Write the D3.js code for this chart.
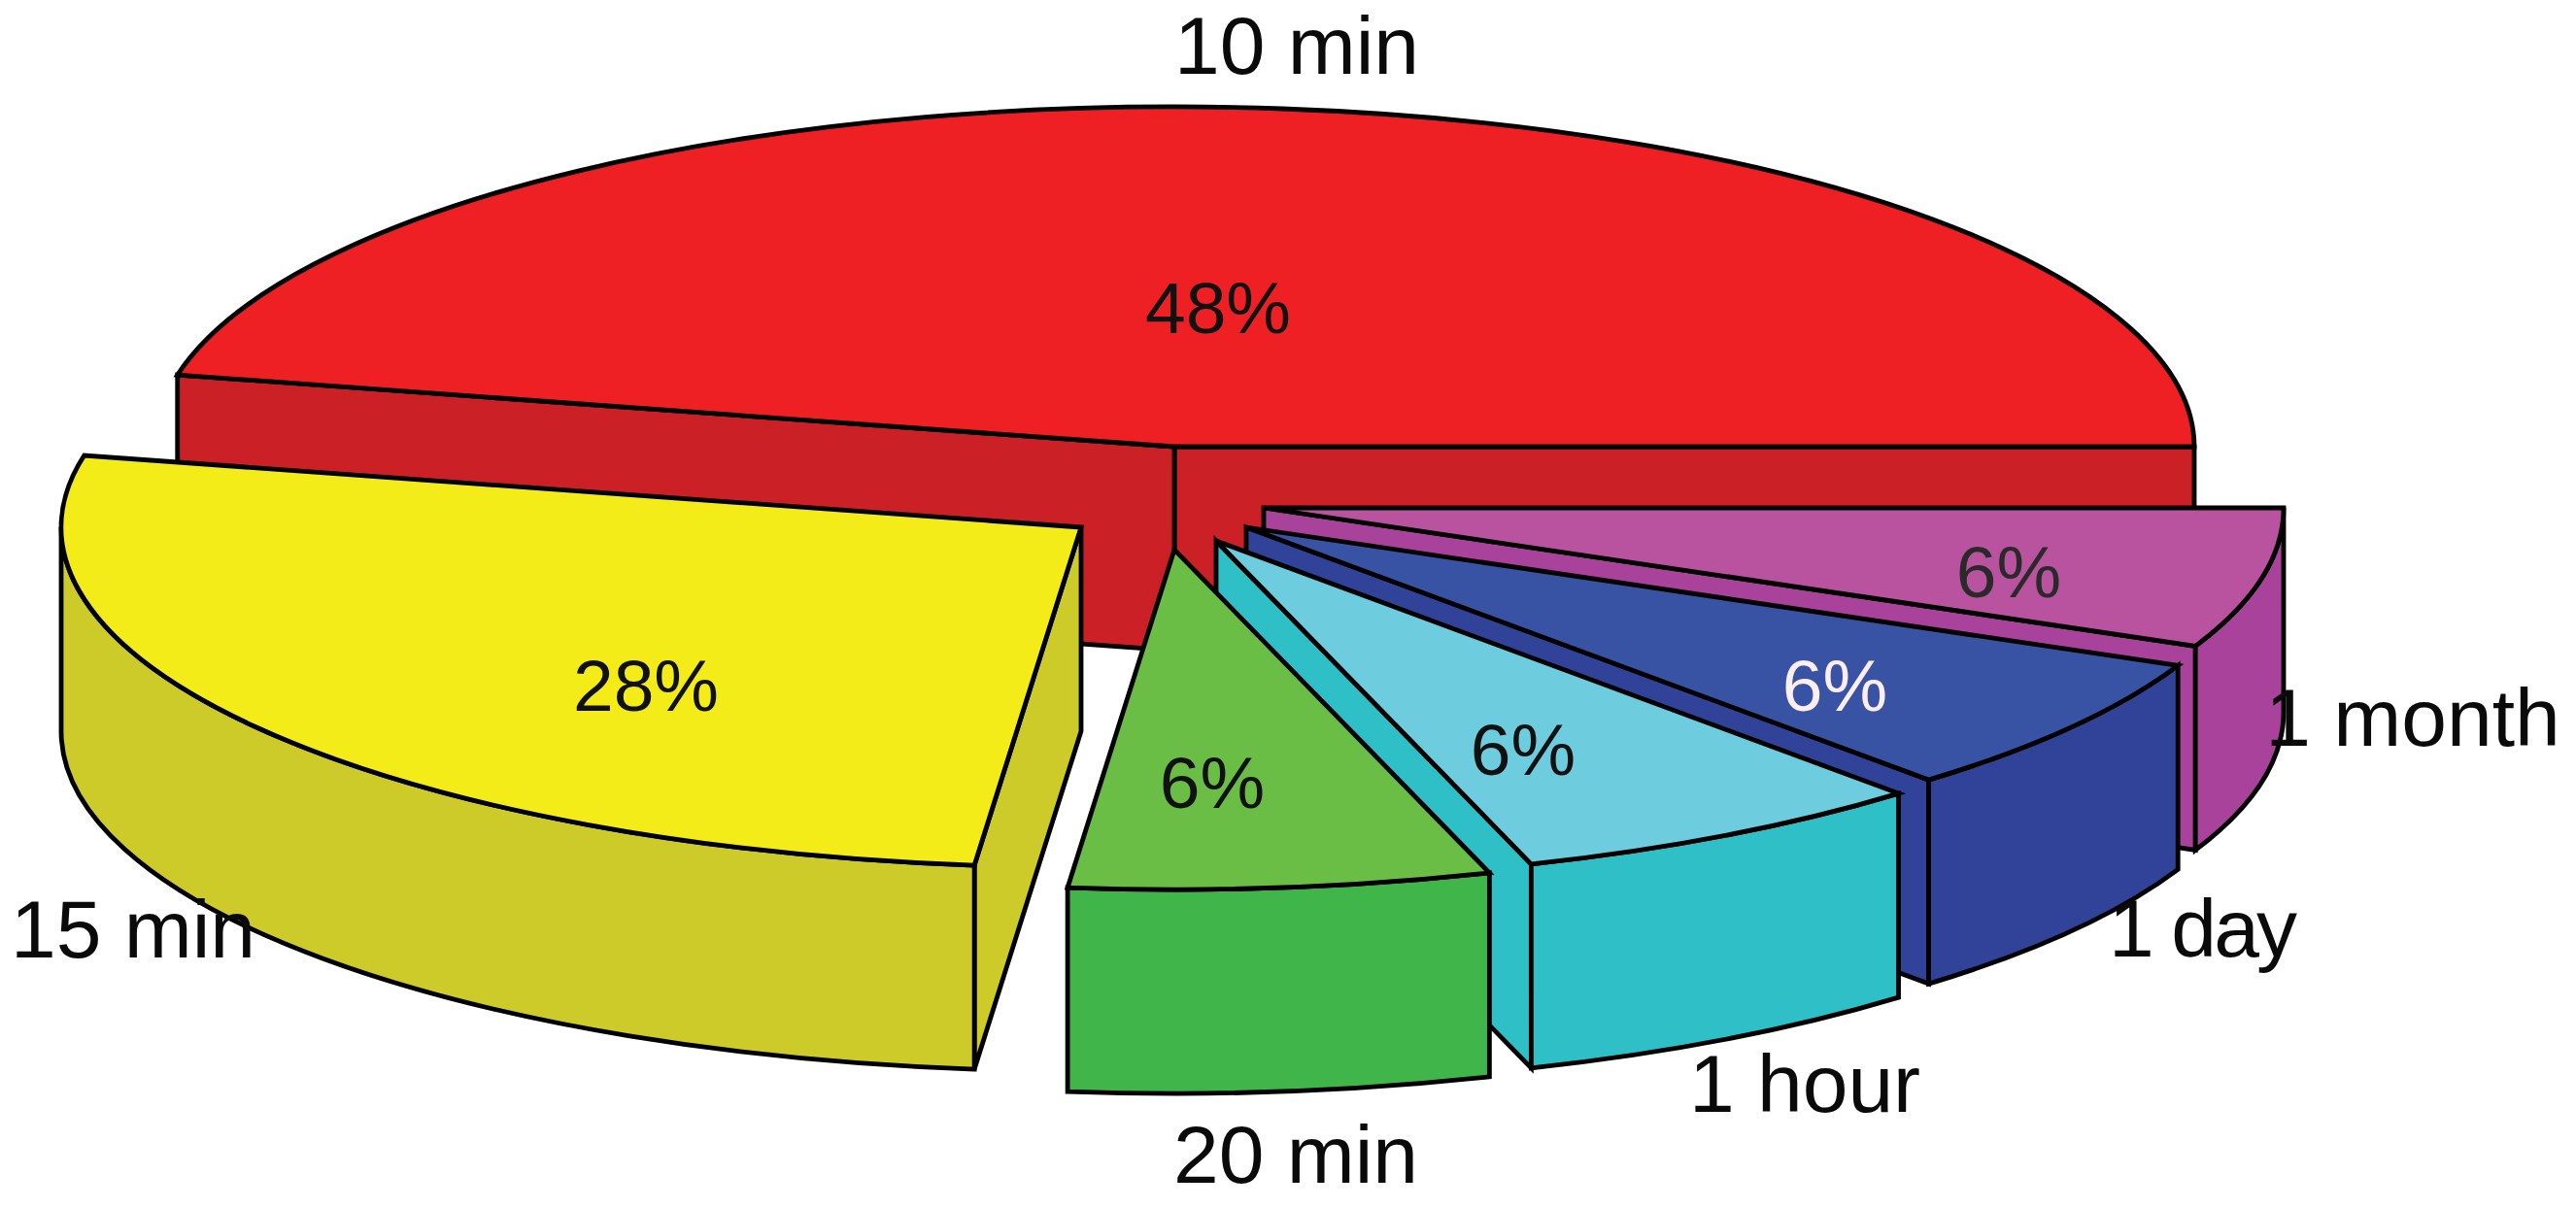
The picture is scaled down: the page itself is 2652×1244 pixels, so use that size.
<!DOCTYPE html>
<html><head><meta charset="utf-8">
<script src="https://cdn.jsdelivr.net/npm/d3@7"></script>
<style>html,body{margin:0;background:#fff}svg{display:block}text{font-family:"Liberation Sans",Arial,sans-serif}</style>
</head><body><svg id="c" width="2652" height="1244"></svg>
<script>
// Data
const categories = ["10 min","15 min","20 min","1 hour","1 day","1 month"];
const shownPercent = [48,28,6,6,6,6];
const sliceShare = [46.61,26.72,6.667,6.667,6.667,6.667];
const topColors = ["#EE2024","#F3EC19","#6ABD45","#6DCCDD","#3953A4","#B9529F"];
const sideColors = ["#CB2026","#CCCB2A","#3FB54A","#2FBFC6","#314399","#A8429A"];
const percentColors = ["#111","#111","#111","#111","#FBEEF0","#2A2A2A"];

// Layout
const W=2652,H=1244, cx=1209, cy=460, rx=1050, ry=350, depth=210;
const explode=[[0,0],[-96,83],[0,106],[43,97],[74,83],[92,63]];
const paintOrder=[0,5,4,3,1,2];
const pctPos=[[1254,343],[665,732],[1248,832],[1568,798],[1889,732],[2068,615]];
const catPos=[[1335,76],[137,986],[1334,1218],[1858,1145],[2268,985],[2484,768]];
const catLength=[null,null,null,null,194,null];

const pie=d3.pie().sort(null).value(d=>d).startAngle(0).endAngle(2*Math.PI);
const arcs=pie(sliceShare);
const px=d3.scaleLinear().domain([-1,1]).range([-rx,rx]);
const py=d3.scaleLinear().domain([-1,1]).range([ry,-ry]);
const svg=d3.select("#c");
const g=svg.append("g");
const strokeW=4.8;

function rim(a){return [px(Math.cos(a)),py(Math.sin(a))];}
function arcTo(a1,a0,dy=0){
  const p=rim(a1), large=Math.abs(a1-a0)>Math.PI?1:0, sweep=a1>a0?0:1;
  return `A${rx} ${ry} 0 ${large} ${sweep} ${p[0]} ${p[1]+dy}`;
}
function topPath(a0,a1){
  const p=rim(a0);
  return `M0 0L${p[0]} ${p[1]}${arcTo(a1,a0)}Z`;
}
function radialFace(a){
  const p=rim(a);
  return `M0 0L${p[0]} ${p[1]}L${p[0]} ${p[1]+depth}L0 ${depth}Z`;
}
function outerWall(a0,a1){
  const s=Math.max(a0,Math.PI), e=Math.min(a1,2*Math.PI);
  if(e<=s) return null;
  const p0=rim(s),p1=rim(e);
  return `M${p0[0]} ${p0[1]}${arcTo(e,s)}L${p1[0]} ${p1[1]+depth}${arcTo(s,e,depth)}Z`;
}

paintOrder.forEach(i=>{
  const a=arcs[i];
  const gs=g.append("g").attr("transform",`translate(${cx+explode[i][0]},${cy+explode[i][1]})`)
    .attr("stroke","#000").attr("stroke-width",strokeW).attr("stroke-linejoin","miter");
  const faces=[];
  if(Math.cos(a.startAngle)>0) faces.push(radialFace(a.startAngle));
  if(Math.cos(a.endAngle)<0) faces.push(radialFace(a.endAngle));
  const w=outerWall(a.startAngle,a.endAngle); if(w) faces.push(w);
  gs.selectAll("path.side").data(faces).join("path").attr("class","side").attr("d",d=>d).attr("fill",sideColors[i]);
  gs.append("path").attr("d",topPath(a.startAngle,a.endAngle)).attr("fill",topColors[i]);
});

svg.selectAll("text.pct").data(shownPercent).join("text").attr("class","pct")
  .attr("x",(d,i)=>pctPos[i][0]).attr("y",(d,i)=>pctPos[i][1])
  .attr("text-anchor","middle").attr("font-size",75).attr("fill",(d,i)=>percentColors[i]).text(d=>d+"%");
svg.selectAll("text.cat").data(categories).join("text").attr("class","cat")
  .attr("x",(d,i)=>catPos[i][0]).attr("y",(d,i)=>catPos[i][1])
  .attr("text-anchor","middle").attr("font-size",84).attr("fill","#0a0a0a")
  .attr("textLength",(d,i)=>catLength[i]).text(d=>d);
</script></body></html>
